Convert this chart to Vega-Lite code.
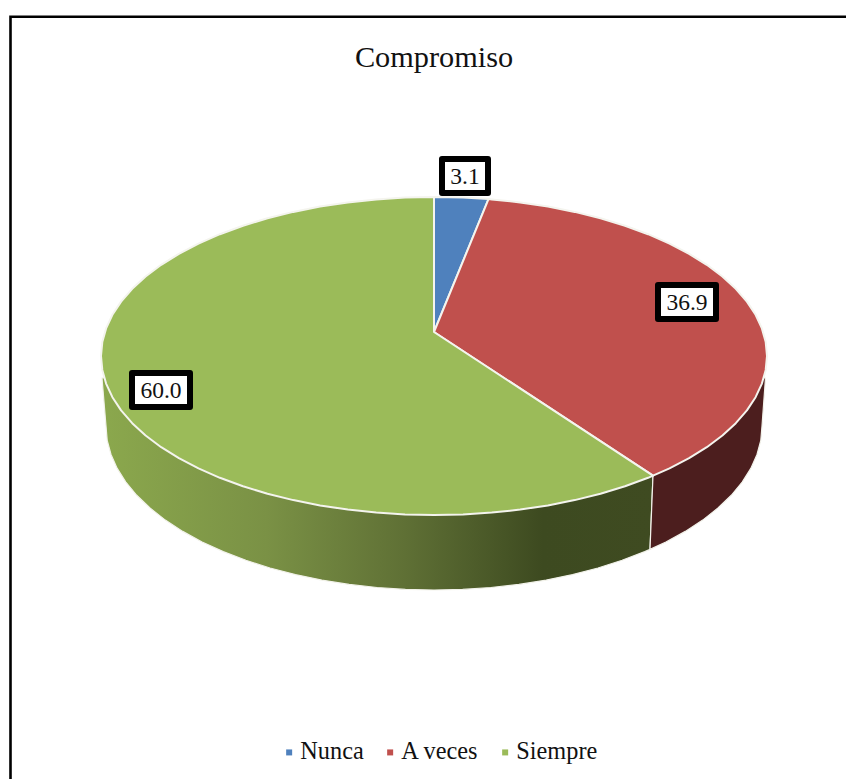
{
  "$schema": "https://vega.github.io/schema/vega-lite/v6.json",
  "width": 846,
  "height": 779,
  "padding": 0,
  "autosize": "none",
  "background": "white",
  "view": {"stroke": null},
  "title": {
    "text": "Compromiso",
    "font": "Liberation Serif",
    "fontSize": 30.3,
    "fontWeight": "normal",
    "color": "#111111",
    "anchor": "middle",
    "frame": "group",
    "baseline": "alphabetic",
    "offset": 0,
    "dx": 11,
    "dy": 97
  },
  "projection": {"type": "identity", "scale": 1, "translate": [434, 356]},
  "datasets": {
    "frame": [
      {"type": "Feature", "properties": {}, "geometry": {"type": "LineString", "coordinates": [[-423.5, 430], [-423.5, -339.3], [420, -339.3]]}}
    ],
    "wallSiempre": [
      {"type": "Feature", "properties": {"category": "Siempre"}, "geometry": {"type": "Polygon", "coordinates": [[
        [216, 193.4], [210.8, 195.6], [188.1, 204.3], [164, 212], [138.6, 218.6], [112.2, 224.1], [84.9, 228.4], [56.9, 231.5], [28.6, 233.4], [0, 234],
        [-28.6, 233.4], [-56.9, 231.5], [-84.9, 228.4], [-112.2, 224.1], [-138.6, 218.6], [-164, 212], [-188.1, 204.3], [-210.8, 195.6], [-231.9, 186], [-251.3, 175.4],
        [-268.7, 164.1], [-284, 152], [-297.3, 139.3], [-308.2, 126.1], [-316.8, 112.4], [-323, 98.5], [-326.8, 84.3], [-328, 70], [-332, 22], [0, 0], [219, 119.7], [216, 193.4]
      ]]}}
    ],
    "wallAVeces": [
      {"type": "Feature", "properties": {"category": "A veces"}, "geometry": {"type": "Polygon", "coordinates": [[
        [216, 193.4], [231.9, 186], [251.3, 175.4], [268.7, 164.1], [284, 152], [297.3, 139.3], [308.2, 126.1], [316.8, 112.4], [323, 98.5], [326.8, 84.3], [328, 70],
        [331.5, 22], [0, 0], [219, 119.7], [216, 193.4]
      ]]}}
    ],
    "slices": [
      {"type": "Feature", "properties": {"category": "Nunca", "value": 3.1}, "geometry": {"type": "Polygon", "coordinates": [[
        [0, -24], [0, -159], [29, -158.4], [54.5, -156.9], [0, -24]
      ]]}},
      {"type": "Feature", "properties": {"category": "A veces", "value": 36.9}, "geometry": {"type": "Polygon", "coordinates": [[
        [0, -24], [54.5, -156.9], [57.8, -156.6], [86.2, -153.6], [113.9, -149.4], [140.7, -144.1], [166.5, -137.7], [191, -130.3], [214.1, -121.8], [235.5, -112.4],
        [255.1, -102.2], [272.8, -91.2], [288.4, -79.5], [301.8, -67.2], [312.9, -54.4], [321.6, -41.2], [327.9, -27.6], [331.7, -13.9], [333, 0], [331.7, 13.9],
        [327.9, 27.6], [321.6, 41.2], [312.9, 54.4], [301.8, 67.2], [288.4, 79.5], [272.8, 91.2], [255.1, 102.2], [235.5, 112.4], [219, 119.7], [0, -24]
      ]]}},
      {"type": "Feature", "properties": {"category": "Siempre", "value": 60.0}, "geometry": {"type": "Polygon", "coordinates": [[
        [0, -24], [219, 119.7], [214.1, 121.8], [191, 130.3], [166.5, 137.7], [140.7, 144.1], [113.9, 149.4], [86.2, 153.6], [57.8, 156.6], [29, 158.4], [0, 159],
        [-29, 158.4], [-57.8, 156.6], [-86.2, 153.6], [-113.9, 149.4], [-140.7, 144.1], [-166.5, 137.7], [-191, 130.3], [-214.1, 121.8], [-235.5, 112.4], [-255.1, 102.2],
        [-272.8, 91.2], [-288.4, 79.5], [-301.8, 67.2], [-312.9, 54.4], [-321.6, 41.2], [-327.9, 27.6], [-331.7, 13.9], [-333, 0], [-331.7, -13.9], [-327.9, -27.6],
        [-321.6, -41.2], [-312.9, -54.4], [-301.8, -67.2], [-288.4, -79.5], [-272.8, -91.2], [-255.1, -102.2], [-235.5, -112.4], [-214.1, -121.8], [-191, -130.3],
        [-166.5, -137.7], [-140.7, -144.1], [-113.9, -149.4], [-86.2, -153.6], [-57.8, -156.6], [-29, -158.4], [0, -159], [0, -24]
      ]]}}
    ],
    "labelBoxes": [
      {"type": "Feature", "properties": {"category": "Nunca", "value": 3.1, "lon": 31, "lat": -180}, "geometry": {"type": "Polygon", "coordinates": [[[8, -197], [54, -197], [54, -163], [8, -163], [8, -197]]]}},
      {"type": "Feature", "properties": {"category": "A veces", "value": 36.9, "lon": 253, "lat": -54}, "geometry": {"type": "Polygon", "coordinates": [[[224, -71], [282, -71], [282, -37], [224, -37], [224, -71]]]}},
      {"type": "Feature", "properties": {"category": "Siempre", "value": 60.0, "lon": -273, "lat": 34}, "geometry": {"type": "Polygon", "coordinates": [[[-302, 17], [-244, 17], [-244, 51], [-302, 51], [-302, 17]]]}}
    ]
  },
  "layer": [
    {
      "data": {"name": "frame"},
      "mark": {"type": "geoshape", "filled": false, "stroke": "#000000", "strokeWidth": 2.6, "strokeJoin": "miter", "clip": false}
    },
    {
      "data": {"name": "wallSiempre"},
      "mark": {
        "type": "geoshape",
        "stroke": "#f2f2ea",
        "strokeWidth": 1.2,
        "fill": {
          "x1": 0, "y1": 0, "x2": 1, "y2": 0,
          "gradient": "linear",
          "stops": [
            {"offset": 0, "color": "#8ba84d"},
            {"offset": 0.3, "color": "#7a9145"},
            {"offset": 0.55, "color": "#5f7035"},
            {"offset": 0.8, "color": "#3d4a20"},
            {"offset": 1, "color": "#3f4b21"}
          ]
        }
      }
    },
    {
      "data": {"name": "wallAVeces"},
      "mark": {"type": "geoshape", "fill": "#4c1e1e", "stroke": "#f2f2ea", "strokeWidth": 1.2}
    },
    {
      "data": {"name": "slices"},
      "mark": {"type": "geoshape", "stroke": "#f4f4ee", "strokeWidth": 2, "strokeJoin": "round"},
      "encoding": {
        "color": {
          "field": "properties.category",
          "type": "nominal",
          "scale": {"domain": ["Nunca", "A veces", "Siempre"], "range": ["#4f81bd", "#c0504d", "#9bbb59"]},
          "legend": {
            "title": null,
            "orient": "none",
            "legendX": 277,
            "legendY": 740,
            "direction": "horizontal",
            "symbolType": "square",
            "symbolSize": 36,
            "symbolStrokeWidth": 0,
            "labelFont": "Liberation Serif",
            "labelFontSize": 24.3,
            "labelColor": "#111111",
            "labelOffset": -1,
            "columnPadding": 14
          }
        }
      }
    },
    {
      "data": {"name": "labelBoxes"},
      "mark": {"type": "geoshape", "fill": "#ffffff", "stroke": "#000000", "strokeWidth": 6, "strokeJoin": "round"}
    },
    {
      "data": {"name": "labelBoxes"},
      "mark": {"type": "text", "font": "Liberation Serif", "fontSize": 23.5, "color": "#111111", "baseline": "middle", "align": "center", "dy": 1},
      "encoding": {
        "longitude": {"field": "properties.lon", "type": "quantitative"},
        "latitude": {"field": "properties.lat", "type": "quantitative"},
        "text": {"field": "properties.value", "type": "quantitative", "format": ".1f"}
      }
    }
  ]
}
